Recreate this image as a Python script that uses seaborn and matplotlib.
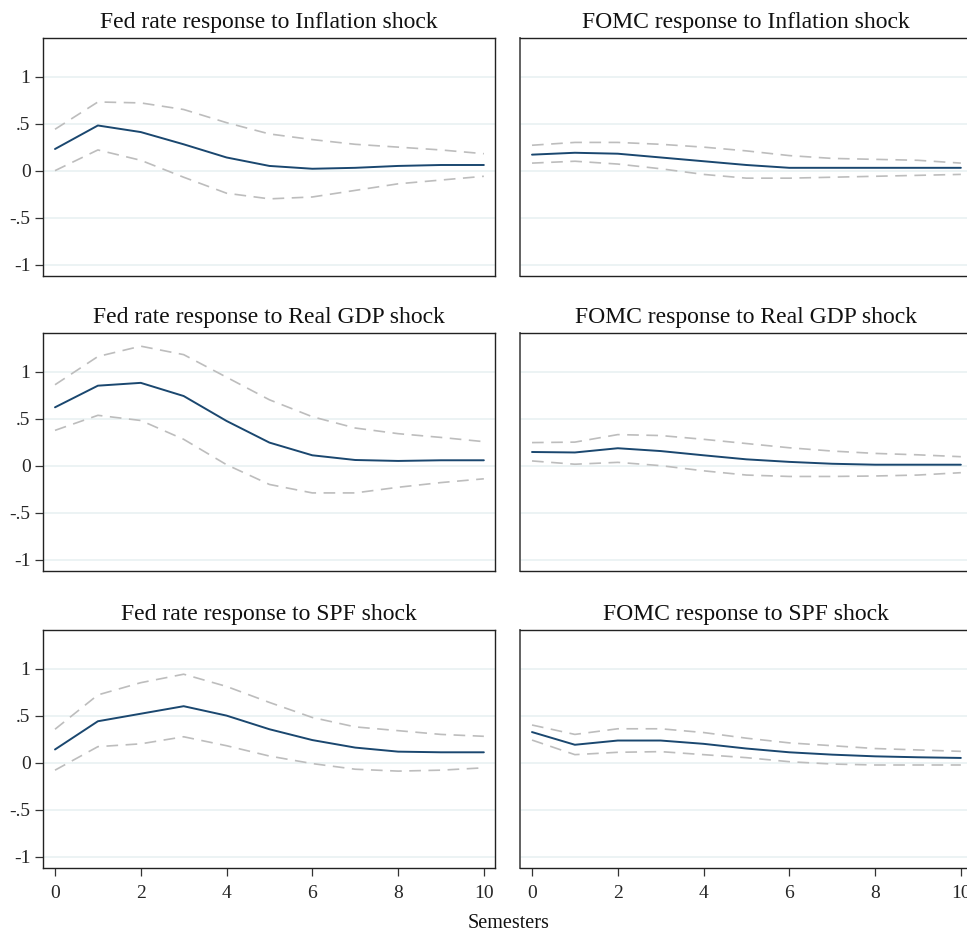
import numpy as np
import pandas as pd
import matplotlib
matplotlib.use("Agg")
import matplotlib.pyplot as plt
import seaborn as sns

steps = list(range(11))

titles = [
    "Fed rate response to Inflation shock", "FOMC response to Inflation shock",
    "Fed rate response to Real GDP shock", "FOMC response to Real GDP shock",
    "Fed rate response to SPF shock", "FOMC response to SPF shock",
]

fed_infl_irf = [0.23, 0.48, 0.41, 0.28, 0.14, 0.05, 0.02, 0.03, 0.05, 0.06, 0.06]
fed_infl_hi = [0.44, 0.73, 0.72, 0.65, 0.51, 0.39, 0.33, 0.28, 0.25, 0.22, 0.18]
fed_infl_lo = [0.00, 0.22, 0.11, -0.07, -0.24, -0.30, -0.28, -0.21, -0.14, -0.10, -0.06]

fomc_infl_irf = [0.17, 0.19, 0.18, 0.14, 0.10, 0.06, 0.03, 0.03, 0.03, 0.03, 0.03]
fomc_infl_hi = [0.27, 0.30, 0.30, 0.28, 0.25, 0.21, 0.16, 0.13, 0.12, 0.11, 0.08]
fomc_infl_lo = [0.08, 0.10, 0.07, 0.02, -0.04, -0.08, -0.08, -0.07, -0.06, -0.05, -0.04]

fed_gdp_irf = [0.62, 0.85, 0.88, 0.74, 0.475, 0.245, 0.11, 0.06, 0.05, 0.057, 0.057]
fed_gdp_hi = [0.86, 1.16, 1.27, 1.18, 0.94, 0.70, 0.52, 0.40, 0.34, 0.30, 0.255]
fed_gdp_lo = [0.375, 0.535, 0.48, 0.28, 0.01, -0.20, -0.29, -0.29, -0.23, -0.18, -0.14]

fomc_gdp_irf = [0.145, 0.14, 0.185, 0.155, 0.11, 0.067, 0.04, 0.02, 0.01, 0.01, 0.01]
fomc_gdp_hi = [0.245, 0.25, 0.33, 0.32, 0.28, 0.235, 0.19, 0.155, 0.13, 0.115, 0.095]
fomc_gdp_lo = [0.05, 0.015, 0.035, 0.0, -0.055, -0.10, -0.115, -0.115, -0.11, -0.10, -0.075]

fed_spf_irf = [0.14, 0.44, 0.52, 0.60, 0.50, 0.355, 0.24, 0.16, 0.117, 0.11, 0.11]
fed_spf_hi = [0.355, 0.72, 0.85, 0.94, 0.81, 0.64, 0.48, 0.38, 0.34, 0.30, 0.28]
fed_spf_lo = [-0.08, 0.17, 0.20, 0.275, 0.18, 0.07, -0.01, -0.07, -0.09, -0.08, -0.055]

fomc_spf_irf = [0.325, 0.19, 0.235, 0.235, 0.20, 0.15, 0.11, 0.085, 0.067, 0.057, 0.05]
fomc_spf_hi = [0.40, 0.30, 0.36, 0.36, 0.32, 0.26, 0.21, 0.18, 0.15, 0.135, 0.12]
fomc_spf_lo = [0.24, 0.085, 0.11, 0.117, 0.085, 0.053, 0.01, -0.015, -0.025, -0.025, -0.025]

series = [
    (fed_infl_irf, fed_infl_lo, fed_infl_hi),
    (fomc_infl_irf, fomc_infl_lo, fomc_infl_hi),
    (fed_gdp_irf, fed_gdp_lo, fed_gdp_hi),
    (fomc_gdp_irf, fomc_gdp_lo, fomc_gdp_hi),
    (fed_spf_irf, fed_spf_lo, fed_spf_hi),
    (fomc_spf_irf, fomc_spf_lo, fomc_spf_hi),
]

y_ticks = [-1, -0.5, 0, 0.5, 1]
y_ticklabels = ["-1", "-.5", "0", ".5", "1"]
x_ticks = [0, 2, 4, 6, 8, 10]
x_label = "Semesters"

sns.set_theme(style="white")
plt.rcParams["font.family"] = ["Liberation Serif", "DejaVu Serif"]

W, H = 967, 935
fig = plt.figure(figsize=(W / 100, H / 100), dpi=100)

navy = "#1a476f"
dash_col = "#bdbdbd"
grid_col = "#eaf2f3"

lefts = [43, 520]
tops = [38, 333, 630]
aw, ah = 452, 238

for i, (irf, lo, hi) in enumerate(series):
    r, c = divmod(i, 2)
    ax = fig.add_axes([lefts[c] / W, 1 - (tops[r] + ah) / H, aw / W, ah / H])
    df = pd.DataFrame({"step": steps, "irf": irf, "lo": lo, "hi": hi})
    for col in ["lo", "hi"]:
        sns.lineplot(data=df, x="step", y=col, ax=ax, color=dash_col,
                     linewidth=1.2, dashes=False, linestyle=(0, (7, 4.5)))
    sns.lineplot(data=df, x="step", y="irf", ax=ax, color=navy, linewidth=1.4)
    ax.set_xlim(-0.28, 10.26)
    ax.set_ylim(-1.12, 1.41)
    ax.set_yticks(y_ticks)
    for yt in y_ticks:
        ax.axhline(yt, color=grid_col, linewidth=1.3, zorder=0)
    ax.set_xlabel("")
    ax.set_ylabel("")
    for sp in ax.spines.values():
        sp.set_color("#222222")
        sp.set_linewidth(1.0)
        sp.set_visible(True)
    if c == 1:
        ax.spines["left"].set_color("#555555")
        ax.spines["left"].set_linewidth(1.3)
    ax.set_title(titles[i], fontsize=17, pad=7, color="#111111")
    if c == 0:
        ax.set_yticklabels(y_ticklabels, fontsize=14)
        ax.tick_params(axis="y", left=True, length=6, width=0.9, color="#333333", pad=3)
    else:
        ax.tick_params(axis="y", left=False, labelleft=False)
    if r == 2:
        ax.set_xticks(x_ticks)
        ax.set_xticklabels([str(t) for t in x_ticks], fontsize=14)
        ax.tick_params(axis="x", bottom=True, length=6, width=0.9, color="#333333", pad=6)
    else:
        ax.set_xticks([])

fig.text(509 / W, 1 - 924 / H, x_label, ha="center", va="center", fontsize=14.5, color="#111111",
         family=["Liberation Serif", "DejaVu Serif"])

fig.savefig("out.png", dpi=100, facecolor="white")
